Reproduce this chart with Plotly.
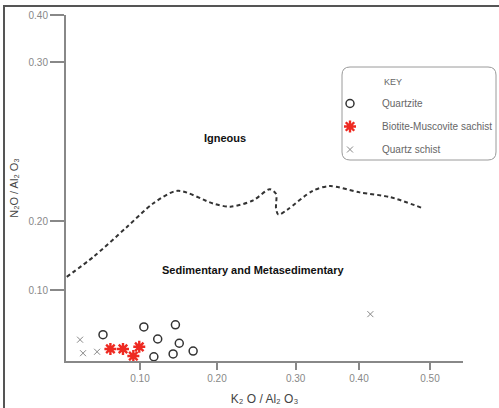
import numpy as np
import plotly.graph_objects as go

# ---------------- data (values in ratio units) ----------------
x_tick_values = [0.10, 0.20, 0.30, 0.40, 0.50]
x_tick_labels = ["0.10", "0.20", "0.30", "0.40", "0.50"]
y_tick_values = [0.10, 0.20, 0.30, 0.40]
y_tick_labels = ["0.10", "0.20", "0.30", "0.40"]

quartzite_x = [0.050, 0.105, 0.146, 0.123, 0.151, 0.169, 0.118, 0.143]
quartzite_y = [0.037, 0.048, 0.051, 0.031, 0.025, 0.014, 0.006, 0.010]

biotite_x = [0.060, 0.077, 0.099, 0.091]
biotite_y = [0.017, 0.017, 0.020, 0.007]

qschist_x = [0.019, 0.023, 0.042, 0.416]
qschist_y = [0.030, 0.011, 0.013, 0.066]

boundary_x = [0.001, 0.037, 0.082, 0.117, 0.149, 0.195, 0.217, 0.246, 0.267,
              0.275, 0.275, 0.278, 0.289, 0.327, 0.354, 0.401, 0.444, 0.490]
boundary_y = [0.119, 0.148, 0.191, 0.211, 0.219, 0.211, 0.209, 0.213, 0.220,
              0.217, 0.208, 0.204, 0.207, 0.219, 0.222, 0.218, 0.215, 0.208]

# ---------------- drawn (non-linear) scale of the source diagram ----------------
X_TICK_POS = [74, 151, 229.7, 293, 364]
Y_TICK_POS = [71, 140, 299, 346]
X_RANGE = [0, 397]
Y_RANGE = [0, 346]


def sx(v):
    return np.interp(v, [0.0] + x_tick_values, [0] + X_TICK_POS)


def sy(v):
    return np.interp(v, [0.0] + y_tick_values, [0] + Y_TICK_POS)


FONT = "Liberation Sans, Arial, sans-serif"

fig = go.Figure()

fig.add_trace(go.Scatter(
    x=sx(boundary_x), y=sy(boundary_y), mode="lines",
    line=dict(color="#333333", width=2, dash="4px,3px", shape="spline", smoothing=0.8),
    showlegend=False, hoverinfo="skip"))

fig.add_trace(go.Scatter(
    x=sx(quartzite_x), y=sy(quartzite_y), mode="markers", name="Quartzite",
    legendgroup="a",
    marker=dict(symbol="circle-open", size=8, color="#333333", line=dict(width=1.5))))

fig.add_trace(go.Scatter(
    x=sx(biotite_x), y=sy(biotite_y), mode="markers", name="Biotite-Muscovite sachist",
    legendgroup="b",
    marker=dict(symbol="asterisk-open", size=10, color="#ee2a22", line=dict(width=2.4, color="#ee2a22"))))

fig.add_trace(go.Scatter(
    x=sx(qschist_x), y=sy(qschist_y), mode="markers", name="Quartz schist",
    legendgroup="c",
    marker=dict(symbol="x-thin-open", size=6, color="#888888", line=dict(width=1, color="#888888"))))

W, H = 499, 408
ML, MR, MT, MB = 66, 36, 15, 47
PW, PH = W - ML - MR, H - MT - MB


def px(p):
    return (p - ML) / PW


def py(p):
    return (H - MB - p) / PH


shapes = []
# figure frame (top and left edges)
shapes.append(dict(type="path", xref="paper", yref="paper",
                   path=f"M {px(4)},{py(408)} L {px(4)},{py(6)} L {px(499)},{py(6)}",
                   line=dict(color="#555555", width=2)))
# rounded key box
l, r, t, b = px(342), px(496), py(67), py(160)
rx, ry = 8 / PW, 8 / PH
path = (f"M {l+rx},{t} L {r-rx},{t} Q {r},{t} {r},{t-ry} L {r},{b+ry} Q {r},{b} {r-rx},{b} "
        f"L {l+rx},{b} Q {l},{b} {l},{b+ry} L {l},{t-ry} Q {l},{t} {l+rx},{t} Z")
shapes.append(dict(type="path", xref="paper", yref="paper", path=path,
                   line=dict(color="#9a9a9a", width=1), fillcolor="rgba(0,0,0,0)"))

annotations = [
    dict(text="KEY", x=px(404), y=py(75), xref="paper", yref="paper", showarrow=False,
         font=dict(family=FONT, size=9, color="#666666")),
    dict(text="<b>Igneous</b>", x=px(225), y=py(138), xref="paper", yref="paper",
         showarrow=False, font=dict(family=FONT, size=11, color="#111111")),
    dict(text="<b>Sedimentary and Metasedimentary</b>", x=px(253), y=py(278),
         xref="paper", yref="paper", showarrow=False,
         font=dict(family=FONT, size=11, color="#111111")),
]

fig.update_layout(
    width=W, height=H,
    margin=dict(l=ML, r=MR, t=MT, b=MB, autoexpand=False),
    paper_bgcolor="white", plot_bgcolor="white",
    font=dict(family=FONT),
    shapes=shapes, annotations=annotations,
    showlegend=True,
    legend=dict(x=px(318), y=py(89), xanchor="left", yanchor="top",
                bgcolor="rgba(0,0,0,0)", borderwidth=0,
                traceorder="grouped", tracegroupgap=4, itemwidth=54,
                font=dict(family=FONT, size=10, color="#666666")),
    xaxis=dict(range=X_RANGE, tickmode="array", tickvals=X_TICK_POS, ticktext=x_tick_labels,
               showgrid=False, zeroline=False, showline=True, linecolor="#888888", linewidth=2,
               ticks="outside", ticklen=7, tickwidth=2, tickcolor="#888888",
               tickfont=dict(family=FONT, size=10, color="#888888"),
               title=dict(text="K₂ O / Al₂ O₃", standoff=12,
                          font=dict(family=FONT, size=12, color="#444444"))),
    yaxis=dict(range=Y_RANGE, tickmode="array", tickvals=Y_TICK_POS, ticktext=y_tick_labels,
               showgrid=False, zeroline=False, showline=True, linecolor="#888888", linewidth=2,
               ticks="outside", ticklen=14, tickwidth=2, tickcolor="#888888",
               tickfont=dict(family=FONT, size=10, color="#888888"),
               title=dict(text="N₂O / Al₂ O₃", standoff=8,
                          font=dict(family=FONT, size=11, color="#444444"))),
)

fig.write_html("out.html")
